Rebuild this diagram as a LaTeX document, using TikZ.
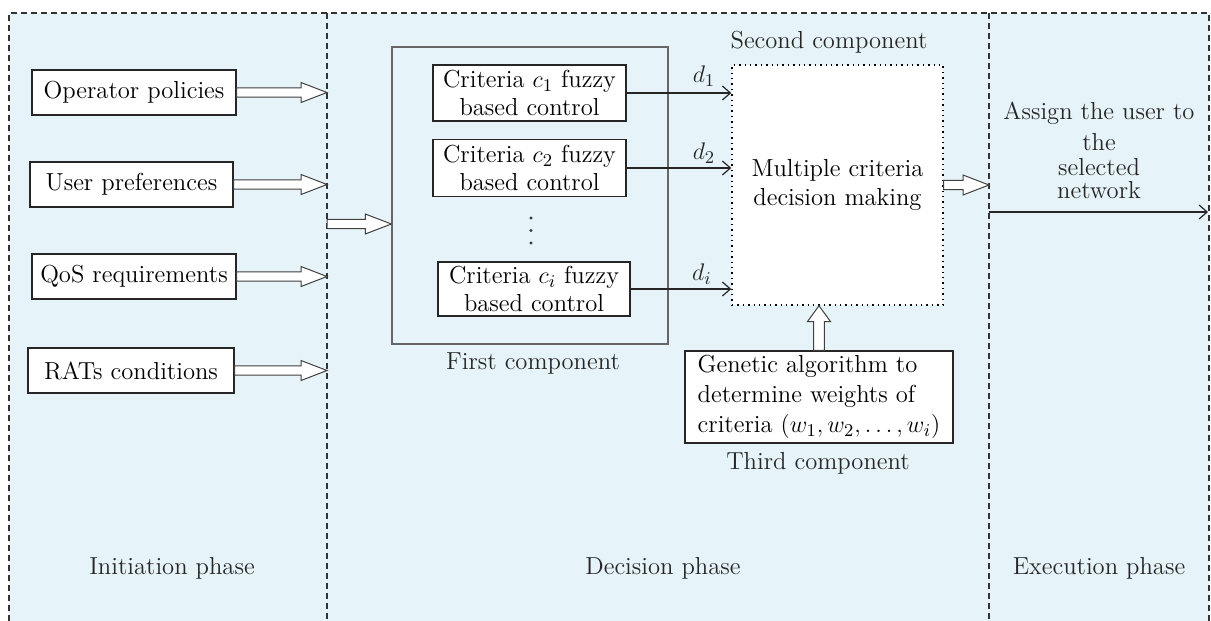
\documentclass[tikz,border=0pt]{standalone}
\usetikzlibrary{calc,arrows.meta}
\definecolor{bgblue}{RGB}{230,243,248}
\begin{document}
\begin{tikzpicture}[x=0.5pt,y=-0.5pt,
  font=\fontsize{12.3}{14}\selectfont,
  box/.style={draw=black!85, line width=0.6pt, fill=white, inner sep=0pt, align=center},
  lbl/.style={inner sep=0pt, text=black!85},
  phaseline/.style={draw=black!80, line width=0.6pt, dash pattern=on 3pt off 2pt},
  thinarrow/.style={draw=black!85, line width=0.6pt, -{Straight Barb[length=4pt,width=7pt]}},
  hollowgen/.style n args={3}{draw=black!75, fill=white, line width=0.5pt, line join=miter,
    to path={
      ($(\tikztostart)!#1!90:(\tikztotarget)$)
      -- ($($(\tikztotarget)!#3!(\tikztostart)$)!#1!-90:(\tikztostart)$)
      -- ($($(\tikztotarget)!#3!(\tikztostart)$)!#2!-90:(\tikztostart)$)
      -- (\tikztotarget)
      -- ($($(\tikztotarget)!#3!(\tikztostart)$)!#2!90:(\tikztostart)$)
      -- ($($(\tikztotarget)!#3!(\tikztostart)$)!#1!90:(\tikztostart)$)
      -- ($(\tikztostart)!#1!-90:(\tikztotarget)$)
      -- cycle}},
  hollowh/.style={hollowgen={2.3pt}{5pt}{13pt}},
  hollowv/.style={hollowgen={2.7pt}{5.8pt}{8pt}}
]
\useasboundingbox (0,0) rectangle (1211,621);
% background and phase frame
\fill[bgblue] (9,13) rectangle (1209,621);
\coordinate (tl) at (9,13);
\coordinate (tr) at (1209,13);
\coordinate (dv1) at (327,13);
\coordinate (dv2) at (989,13);
\draw[phaseline] (9,621) -- (tl) -- (tr) -- (1209,621);
\draw[phaseline] (dv1) -- (327,621);
\draw[phaseline] (dv2) -- (989,621);

% initiation phase inputs
\node[box, minimum width=102pt, minimum height=22.5pt] (op)  at (134,92.5)  {Operator policies};
\node[box, minimum width=101.5pt, minimum height=22.5pt] (up)  at (131.5,184.5) {User preferences};
\node[box, minimum width=102pt, minimum height=22.5pt] (qos) at (134,276.5) {QoS requirements};
\node[box, minimum width=103pt, minimum height=22.5pt] (rat) at (131,370.5) {RATs conditions};

\draw[hollowh] (op.east)  to (op.east -| dv1);
\draw[hollowh] (up.east)  to (up.east -| dv1);
\draw[hollowh] (qos.east) to (qos.east -| dv1);
\draw[hollowh] (rat.east) to (rat.east -| dv1);

% first component
\node[draw=black!60, line width=0.7pt, minimum width=138pt, minimum height=148.5pt, inner sep=0pt] (first) at (530,195.5) {};
\node[lbl] (firstlbl) at (533,364) {First component};
\coordinate (in) at (327,224);
\draw[hollowh] (in) to (in -| first.west);

\node[box, minimum width=96.5pt, minimum height=28pt] (c1) at (529.5,93) {Criteria $c_1$ fuzzy\\based control};
\node[box, minimum width=96.5pt, minimum height=28.5pt] (c2) at (529.5,168) {Criteria $c_2$ fuzzy\\based control};
\fill[black!80] (531,218) circle (0.8pt) (531,230.5) circle (0.8pt) (531,243) circle (0.8pt);
\node[box, minimum width=96pt, minimum height=27pt] (ci) at (534,289) {Criteria $c_i$ fuzzy\\based control};

% second component
\node[draw=black, line width=0.7pt, dotted, fill=white, minimum width=105.5pt, minimum height=120pt, inner sep=0pt, align=center,
      font=\fontsize{12.3}{14.5}\selectfont] (mcdm) at (837.5,185) {Multiple criteria\\decision making};
\node[lbl] (secondlbl) at (829,42) {Second component};

\draw[thinarrow] (c1.east) -- (c1.east -| mcdm.west);
\draw[thinarrow] (c2.east) -- (c2.east -| mcdm.west);
\draw[thinarrow] (ci.east) -- (ci.east -| mcdm.west);
\node[lbl] (d1) at (704,76) {$d_1$};
\node[lbl] (d2) at (704,153) {$d_2$};
\node[lbl] (di) at (702,274) {$d_i$};

% third component
\node[box, minimum width=134pt, minimum height=46pt, align=left, inner xsep=2pt,
      font=\fontsize{12.3}{15}\selectfont] (ga) at (819,397)
  {Genetic algorithm to\\determine weights of\\criteria $(w_1, w_2, \dots, w_i)$};
\node[lbl] (thirdlbl) at (818,463) {Third component};
\draw[hollowv] (ga.north) to (ga.north |- mcdm.south);

% execution phase
\draw[hollowh] (mcdm.east) to (mcdm.east -| dv2);
\node[lbl, align=center] (assign) at (1099,150)
  {Assign the user to\\[1.5pt]the\\[-1.5pt]selected\\[-2.5pt]network};
\coordinate (ex) at (989,212);
\coordinate (exend) at (1208,212);
\draw[thinarrow] (ex) -- (exend);

% phase labels
\node[lbl] (ph1) at (172,568) {Initiation phase};
\node[lbl] (ph2) at (663,568) {Decision phase};
\node[lbl] (ph3) at (1099,568) {Execution phase};
\end{tikzpicture}
\end{document}
